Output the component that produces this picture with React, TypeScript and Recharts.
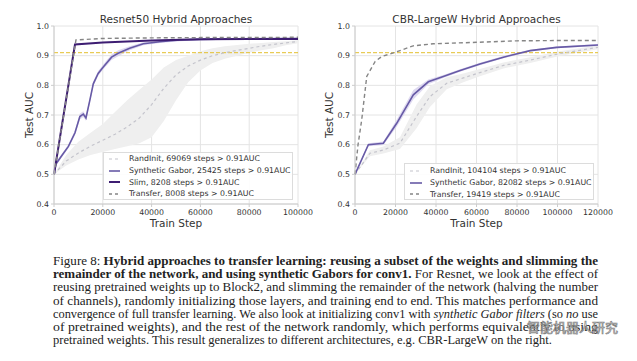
import React from 'react';
import { ComposedChart, Line, Area, XAxis, YAxis, CartesianGrid, ReferenceLine, Legend } from 'recharts';

const FONT = '"DejaVu Sans", sans-serif';
const SERIF = '"Liberation Serif", "DejaVu Serif", serif';

const aucTicks = [0.4, 0.5, 0.6, 0.7, 0.8, 0.9, 1.0];
const resnetStepTicks = [0, 20000, 40000, 60000, 80000, 100000];
const cbrStepTicks = [0, 20000, 40000, 60000, 80000, 100000, 120000];
const aucThreshold = 0.91;

// ---- Resnet50 hybrid approaches ----
const resnetRandInitSteps = [0, 5000, 10000, 15000, 20000, 25000, 30000, 35000, 40000, 45000, 50000, 55000, 60000, 65000, 70000, 75000, 80000, 85000, 90000, 95000, 100000];
const resnetRandInitAuc = [0.5, 0.545, 0.572, 0.595, 0.615, 0.635, 0.66, 0.69, 0.735, 0.79, 0.835, 0.865, 0.885, 0.9, 0.91, 0.918, 0.925, 0.932, 0.938, 0.943, 0.948];
const resnetRandInitLow = [0.5, 0.53, 0.55, 0.565, 0.575, 0.585, 0.595, 0.605, 0.625, 0.68, 0.75, 0.81, 0.85, 0.875, 0.89, 0.9, 0.91, 0.918, 0.925, 0.935, 0.942];
const resnetRandInitHigh = [0.5, 0.565, 0.61, 0.64, 0.67, 0.71, 0.75, 0.785, 0.82, 0.86, 0.885, 0.9, 0.915, 0.925, 0.932, 0.936, 0.94, 0.943, 0.946, 0.949, 0.952];

const resnetGaborSteps = [0, 800, 2500, 5900, 8600, 10600, 12000, 13100, 14700, 16100, 18100, 20200, 23600, 26300, 31000, 36600, 43400, 51600, 60000, 80000, 100000];
const resnetGaborAuc = [0.5, 0.535, 0.555, 0.594, 0.64, 0.695, 0.703, 0.69, 0.75, 0.805, 0.84, 0.862, 0.895, 0.908, 0.925, 0.94, 0.947, 0.953, 0.955, 0.957, 0.958];
const resnetGaborSpread = [0, 0.005, 0.006, 0.006, 0.008, 0.01, 0.01, 0.009, 0.008, 0.008, 0.008, 0.008, 0.01, 0.01, 0.007, 0.005, 0.004, 0.004, 0.003, 0.003, 0.003];

const resnetSlimSteps = [0, 8600, 20000, 40000, 60000, 80000, 100000];
const resnetSlimAuc = [0.5, 0.938, 0.944, 0.951, 0.955, 0.956, 0.956];

const resnetTransferSteps = [0, 9000, 20000, 40000, 60000, 80000, 100000];
const resnetTransferAuc = [0.5, 0.953, 0.958, 0.96, 0.961, 0.961, 0.962];

// ---- CBR-LargeW hybrid approaches ----
const cbrRandInitSteps = [0, 7400, 14000, 22200, 30400, 37000, 45300, 53500, 61700, 73300, 86500, 101000, 120000];
const cbrRandInitAuc = [0.5, 0.571, 0.582, 0.605, 0.695, 0.762, 0.807, 0.825, 0.843, 0.867, 0.885, 0.907, 0.928];
const cbrRandInitSpread = [0, 0.01, 0.012, 0.02, 0.04, 0.035, 0.02, 0.015, 0.012, 0.01, 0.01, 0.008, 0.006];

const cbrGaborSteps = [0, 6600, 14000, 20600, 28800, 36200, 43600, 51900, 61700, 73300, 86500, 99600, 120000];
const cbrGaborAuc = [0.5, 0.6, 0.605, 0.672, 0.768, 0.812, 0.83, 0.85, 0.872, 0.895, 0.917, 0.928, 0.936];
const cbrGaborSpread = [0, 0.005, 0.006, 0.012, 0.016, 0.008, 0.005, 0.004, 0.004, 0.004, 0.003, 0.003, 0.003];

const cbrTransferSteps = [0, 1500, 3300, 5800, 9900, 13200, 19700, 28700, 38600, 60000, 80000, 100000, 120000];
const cbrTransferAuc = [0.5, 0.6, 0.683, 0.83, 0.88, 0.897, 0.911, 0.933, 0.94, 0.945, 0.95, 0.951, 0.951];

// ---- legend labels ----
const resnetLegendLabels = [
  'RandInit, 69069 steps > 0.91AUC',
  'Synthetic Gabor, 25425 steps > 0.91AUC',
  'Slim, 8208 steps > 0.91AUC',
  'Transfer, 8008 steps > 0.91AUC',
];
const cbrLegendLabels = [
  'RandInit, 104104 steps > 0.91AUC',
  'Synthetic Gabor, 82082 steps > 0.91AUC',
  'Transfer, 19419 steps > 0.91AUC',
];

const C_RAND = '#c4c4cc';
const C_GABOR = '#675aa6';
const C_SLIM = '#3d1d72';
const C_TRANSFER = '#858585';
const C_RAND_BAND = '#efefef';
const C_GABOR_BAND = '#d6d0ec';
const C_YELLOW = '#e3bf2e';

const toLine = (steps: number[], auc: number[]) => steps.map((s, i) => ({ step: s, auc: auc[i] }));
const toBandLH = (steps: number[], low: number[], high: number[]) => steps.map((s, i) => ({ step: s, band: [low[i], high[i]] }));
const toBandSpread = (steps: number[], auc: number[], sp: number[]) =>
  steps.map((s, i) => ({ step: s, band: [auc[i] - sp[i], auc[i] + sp[i]] }));

type LegendItem = { label: string; color: string; width: number; dash?: string };

const LegendBox = ({ items, sampleLeft, sampleLen, textGap, padTop }: { items: LegendItem[]; sampleLeft: number; sampleLen: number; textGap: number; padTop: number }) => (
  <div
    style={{
      border: '1px solid #dcdcdc',
      background: 'rgba(255,255,255,0.9)',
      boxSizing: 'border-box',
      width: '100%',
      height: '100%',
      paddingTop: padTop,
      fontFamily: FONT,
      fontSize: 7.8,
      color: '#333',
    }}
  >
    {items.map((it) => (
      <div key={it.label} style={{ display: 'flex', alignItems: 'center', height: 11.7, whiteSpace: 'nowrap' }}>
        <svg width={sampleLeft + sampleLen} height={6} style={{ flex: 'none' }}>
          <line x1={sampleLeft} x2={sampleLeft + sampleLen} y1={3} y2={3} stroke={it.color} strokeWidth={it.width} strokeDasharray={it.dash} />
        </svg>
        <span style={{ marginLeft: textGap }}>{it.label}</span>
      </div>
    ))}
  </div>
);

type ChartProps = {
  left: number;
  width: number;
  marginLeft: number;
  marginRight: number;
  xMax: number;
  xTicks: number[];
  yLabelOffset: number;
  children: React.ReactNode;
};

const tickStyle = { fontSize: 7.8, fill: '#333', fontFamily: FONT };

function AucChart({ left, width, marginLeft, marginRight, xMax, xTicks, yLabelOffset, children }: ChartProps) {
  return (
    <div style={{ position: 'absolute', left, top: 0 }}>
      <ComposedChart width={width} height={240} margin={{ top: 26, right: marginRight, bottom: 6, left: marginLeft }}>
        <CartesianGrid stroke="#e4e4e4" strokeWidth={1} />
        <XAxis
          type="number"
          dataKey="step"
          domain={[0, xMax]}
          ticks={xTicks}
          interval={0}
          tickSize={3}
          height={30}
          stroke="#cccccc"
          tick={tickStyle}
          label={{ value: 'Train Step', position: 'insideBottom', offset: 7, fontSize: 10.5, fill: '#333', fontFamily: FONT }}
        />
        <XAxis xAxisId="top" orientation="top" type="number" domain={[0, xMax]} ticks={xTicks} interval={0} tickSize={3} height={0} stroke="#cccccc" tickFormatter={() => ''} />
        <YAxis
          type="number"
          domain={[0.4, 1.0]}
          ticks={aucTicks}
          interval={0}
          tickSize={3}
          width={30}
          stroke="#cccccc"
          tick={tickStyle}
          tickFormatter={(v: number) => v.toFixed(1)}
          label={{ value: 'Test AUC', angle: -90, position: 'insideLeft', offset: yLabelOffset, fontSize: 10.5, fill: '#333', fontFamily: FONT, style: { textAnchor: 'middle' } }}
        />
        <YAxis yAxisId="r" orientation="right" type="number" domain={[0.4, 1.0]} ticks={aucTicks} interval={0} tickSize={3} width={0} stroke="#cccccc" tickFormatter={() => ''} />
        {children}
      </ComposedChart>
    </div>
  );
}

const captionLines: { t: string; s: 'n' | 'b' | 'i' }[][] = [
  [{ t: 'Figure 8: ', s: 'n' }, { t: 'Hybrid approaches to transfer learning: reusing a subset of the weights and slimming the', s: 'b' }],
  [{ t: 'remainder of the network, and using synthetic Gabors for conv1.', s: 'b' }, { t: ' For Resnet, we look at the effect of', s: 'n' }],
  [{ t: 'reusing pretrained weights up to Block2, and slimming the remainder of the network (halving the number', s: 'n' }],
  [{ t: 'of channels), randomly initializing those layers, and training end to end. This matches performance and', s: 'n' }],
  [
    { t: 'convergence of full transfer learning. We also look at initializing conv1 with ', s: 'n' },
    { t: 'synthetic Gabor filters', s: 'i' },
    { t: ' (so ', s: 'n' },
    { t: 'no', s: 'i' },
    { t: ' use', s: 'n' },
  ],
  [{ t: 'of pretrained weights), and the rest of the network randomly, which performs equivalently to using', s: 'n' }],
  [{ t: 'pretrained weights. This result generalizes to different architectures, e.g. CBR-LargeW on the right.', s: 'n' }],
];
const captionWidths = [545, 545, 545, 545, 545, 545, 499];

export default function App() {
  return (
    <div style={{ position: 'absolute', left: 0, top: 0, width: 637, height: 361, background: '#fff', overflow: 'hidden' }}>
      <AucChart left={0} width={320} marginLeft={24} marginRight={22} xMax={100000} xTicks={resnetStepTicks} yLabelOffset={5}>
        <Area data={toBandLH(resnetRandInitSteps, resnetRandInitLow, resnetRandInitHigh)} dataKey="band" stroke="none" fill={C_RAND_BAND} fillOpacity={1} isAnimationActive={false} />
        <Area data={toBandSpread(resnetGaborSteps, resnetGaborAuc, resnetGaborSpread)} dataKey="band" stroke="none" fill={C_GABOR_BAND} fillOpacity={0.8} isAnimationActive={false} />
        <ReferenceLine y={aucThreshold} stroke={C_YELLOW} strokeDasharray="4 2" strokeWidth={1} />
        <Line data={toLine(resnetRandInitSteps, resnetRandInitAuc)} dataKey="auc" stroke={C_RAND} strokeWidth={1.2} strokeDasharray="3 3" dot={false} isAnimationActive={false} />
        <Line data={toLine(resnetGaborSteps, resnetGaborAuc)} dataKey="auc" stroke={C_GABOR} strokeWidth={1.6} dot={false} isAnimationActive={false} />
        <Line data={toLine(resnetSlimSteps, resnetSlimAuc)} dataKey="auc" stroke={C_SLIM} strokeWidth={2} dot={false} isAnimationActive={false} />
        <Line data={toLine(resnetTransferSteps, resnetTransferAuc)} dataKey="auc" stroke={C_TRANSFER} strokeWidth={1.4} strokeDasharray="4 3" dot={false} isAnimationActive={false} />
        <Legend
          verticalAlign="middle"
          align="center"
          layout="horizontal"
          wrapperStyle={{ left: 103, top: 152, width: 190, height: 48 }}
          content={() => (
            <LegendBox
              sampleLeft={5}
              sampleLen={11}
              textGap={9}
              padTop={0}
              items={[
                { label: resnetLegendLabels[0], color: C_RAND, width: 1.2, dash: '3 3' },
                { label: resnetLegendLabels[1], color: C_GABOR, width: 1.6 },
                { label: resnetLegendLabels[2], color: C_SLIM, width: 2 },
                { label: resnetLegendLabels[3], color: C_TRANSFER, width: 1.4, dash: '3 3' },
              ]}
            />
          )}
        />
      </AucChart>

      <AucChart left={320} width={300} marginLeft={5} marginRight={22} xMax={120000} xTicks={cbrStepTicks} yLabelOffset={4}>
        <Area data={toBandSpread(cbrRandInitSteps, cbrRandInitAuc, cbrRandInitSpread)} dataKey="band" stroke="none" fill={C_RAND_BAND} fillOpacity={1} isAnimationActive={false} />
        <Area data={toBandSpread(cbrGaborSteps, cbrGaborAuc, cbrGaborSpread)} dataKey="band" stroke="none" fill={C_GABOR_BAND} fillOpacity={0.8} isAnimationActive={false} />
        <ReferenceLine y={aucThreshold} stroke={C_YELLOW} strokeDasharray="4 2" strokeWidth={1} />
        <Line data={toLine(cbrRandInitSteps, cbrRandInitAuc)} dataKey="auc" stroke={C_RAND} strokeWidth={1.2} strokeDasharray="3 3" dot={false} isAnimationActive={false} />
        <Line data={toLine(cbrGaborSteps, cbrGaborAuc)} dataKey="auc" stroke={C_GABOR} strokeWidth={1.6} dot={false} isAnimationActive={false} />
        <Line data={toLine(cbrTransferSteps, cbrTransferAuc)} dataKey="auc" stroke={C_TRANSFER} strokeWidth={1.4} strokeDasharray="4 3" dot={false} isAnimationActive={false} />
        <Legend
          verticalAlign="middle"
          align="center"
          layout="horizontal"
          wrapperStyle={{ left: 84, top: 163, width: 190, height: 37 }}
          content={() => (
            <LegendBox
              sampleLeft={5}
              sampleLen={12}
              textGap={8}
              padTop={1}
              items={[
                { label: cbrLegendLabels[0], color: C_RAND, width: 1.2, dash: '3 3' },
                { label: cbrLegendLabels[1], color: C_GABOR, width: 1.6 },
                { label: cbrLegendLabels[2], color: C_TRANSFER, width: 1.4, dash: '3 3' },
              ]}
            />
          )}
        />
      </AucChart>

      <svg width={637} height={361} style={{ position: 'absolute', left: 0, top: 0, pointerEvents: 'none' }}>
        <text x={176} y={23} textAnchor="middle" fontFamily={FONT} fontSize={10.5} fill="#333">Resnet50 Hybrid Approaches</text>
        <text x={476.5} y={23} textAnchor="middle" fontFamily={FONT} fontSize={10.5} fill="#333">CBR-LargeW Hybrid Approaches</text>
        {captionLines.map((line, li) => (
          <text
            key={li}
            x={53}
            y={265 + li * 13.17}
            fontFamily={SERIF}
            fontSize={12.5}
            fill="#222"
            textLength={captionWidths[li]}
            lengthAdjust="spacingAndGlyphs"
          >
            {line.map((seg, si) => (
              <tspan key={si} fontWeight={seg.s === 'b' ? 'bold' : 'normal'} fontStyle={seg.s === 'i' ? 'italic' : 'normal'}>
                {seg.t}
              </tspan>
            ))}
          </text>
        ))}
        <text x={527} y={332} fontFamily='"Noto Sans CJK SC", sans-serif' fontSize={13} fill="#ffffff" stroke="#777" strokeWidth={0.7} opacity={0.9}>
          智能机器人研究
        </text>
      </svg>
    </div>
  );
}
